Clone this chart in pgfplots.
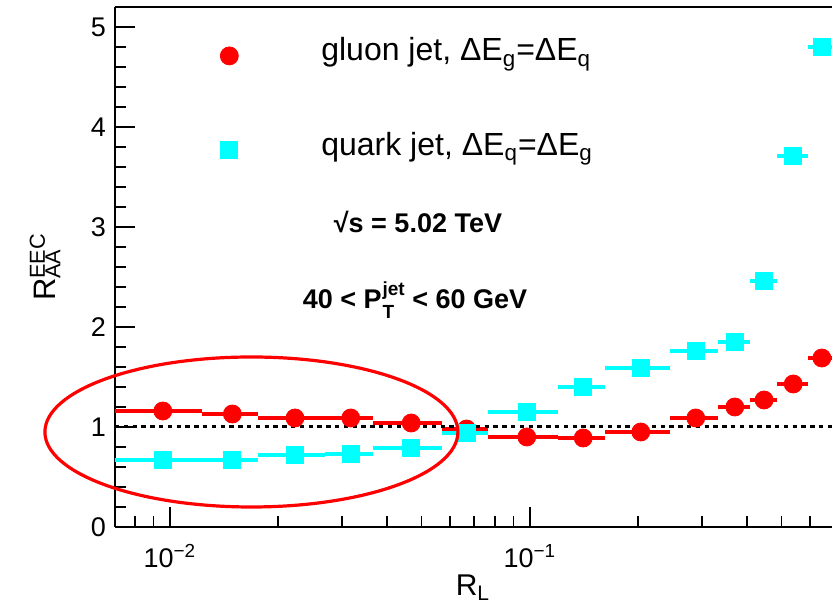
\documentclass[border=0pt]{standalone}
\usepackage{fontspec}
\setmainfont{Liberation Sans}
\usepackage{pgfplots}
\usepackage{pgfplotstable}
\pgfplotsset{compat=1.18}

\definecolor{rootred}{RGB}{255,0,0}
\definecolor{rootcyan}{RGB}{0,255,255}

\newcommand{\supsub}[2]{\rlap{\textsubscript{#2}}\textsuperscript{#1}}
\newcommand{\ptjet}{P\kern0.5pt\rlap{\raisebox{-4.6pt}{\fontsize{9.5}{11}\selectfont T}}\raisebox{6.6pt}{\fontsize{9.5}{11}\selectfont jet}}

\pgfplotsset{mylegimg/.style={legend image code/.code={\path[draw=none,fill=none] (-4.5pt,-4.5pt) rectangle (46pt,4.5pt); \draw[##1] plot coordinates {(0pt,-2.5pt)};}}}

\pgfplotstableread{
x y ex
0.00956 1.16 0.00271
0.014915 1.13 0.002645
0.022255 1.09 0.004695
0.031795 1.09 0.004845
0.0468 1.04 0.01016
0.066685 0.98 0.009725
0.098005 0.90 0.021595
0.1406 0.89 0.021
0.2032 0.95 0.0416
0.28885 1.09 0.04405
0.3707 1.20 0.0378
0.44705 1.27 0.03855
0.5387 1.43 0.0531
0.647 1.69 0.0552
}\gluon

\pgfplotstableread{
x y ex
0.00956 0.67 0.00271
0.014915 0.67 0.002645
0.022255 0.72 0.004695
0.031795 0.73 0.004845
0.0468 0.79 0.01016
0.066685 0.94 0.009725
0.098005 1.15 0.021595
0.1406 1.40 0.021
0.2032 1.59 0.0416
0.28885 1.76 0.04405
0.3707 1.85 0.0378
0.44705 2.46 0.03855
0.5387 3.71 0.0531
0.647 4.80 0.0552
}\quark

\begin{document}
\begin{tikzpicture}
\begin{axis}[
  scale only axis, width=358.5pt, height=260pt,
  xmode=log, xmin=0.00704, xmax=0.6902, ymin=0, ymax=5.2,
  axis x line*=box, axis y line*=left,
  axis line style={line width=1pt, black},
  tick pos=left, tick align=inside,
  major tick length=10pt, minor tick length=5.5pt,
  every tick/.style={black, line width=0.9pt},
  xtick={0.01,0.1},
  xticklabels={10\textsuperscript{−2},10\textsuperscript{−1}},
  minor xtick={0.008,0.009,0.02,0.03,0.04,0.05,0.06,0.07,0.08,0.09,0.2,0.3,0.4,0.5,0.6},
  ytick={0,1,2,3,4,5}, minor y tick num=4,
  /pgf/number format/assume math mode=true,
  tick label style={font=\fontsize{13.5}{16}\selectfont},
  xticklabel style={yshift=-5pt},
  yticklabel style={xshift=-1pt},
  xlabel={R\textsubscript{L}},
  xlabel style={font=\fontsize{15}{18}\selectfont, at={(axis description cs:0.4993,-0.117)}, anchor=center},
  ylabel={R\supsub{EEC}{AA}},
  ylabel style={font=\fontsize{15.5}{18}\selectfont, at={(axis description cs:-0.0976,0.5)}, anchor=center},
  legend cell align=left,
  legend style={draw=none, fill=none, at={(axis description cs:0.138,0.9492)}, anchor=north west,
    font=\fontsize{16}{19}\selectfont, row sep=33.5pt, column sep=0pt,
    nodes={inner sep=0pt}},
]
\addplot[rootred, only marks, mark=*, mark size=4.5pt, mylegimg,
  error bars/.cd, x dir=both, x explicit, error mark=none,
  error bar style={line width=1.9pt, rootred}]
  table[x=x, y=y, x error=ex] {\gluon};
\addlegendentry{gluon jet, ΔE\textsubscript{g}=ΔE\textsubscript{q}}
\addplot[rootcyan, only marks, mark=square*, mark size=4.25pt, mylegimg,
  error bars/.cd, x dir=both, x explicit, error mark=none,
  error bar style={line width=1.7pt, rootcyan}]
  table[x=x, y=y, x error=ex] {\quark};
\addlegendentry{quark jet, ΔE\textsubscript{q}=ΔE\textsubscript{g}}
\addplot[black, line width=1.5pt, dash pattern=on 2.2pt off 2.2pt, forget plot]
  coordinates {(0.00704,1) (0.6902,1)};
\node[font=\bfseries\fontsize{13.5}{16}\selectfont] at (rel axis cs:0.4226,0.5865) {√s = 5.02 TeV};
\node[font=\bfseries\fontsize{13.5}{16}\selectfont] at (rel axis cs:0.4184,0.4365) {40 < \ptjet{} < 60 GeV};
\coordinate (ell) at (axis cs:0.016843,0.95);
\end{axis}
\draw[rootred, line width=1.6pt] (ell) ellipse [x radius=103.25pt, y radius=37.5pt];
\pgfresetboundingbox
\path ([xshift=-57.5pt,yshift=-38.5pt]current axis.south west) rectangle ([yshift=3.5pt]current axis.north east);
\end{tikzpicture}
\end{document}
